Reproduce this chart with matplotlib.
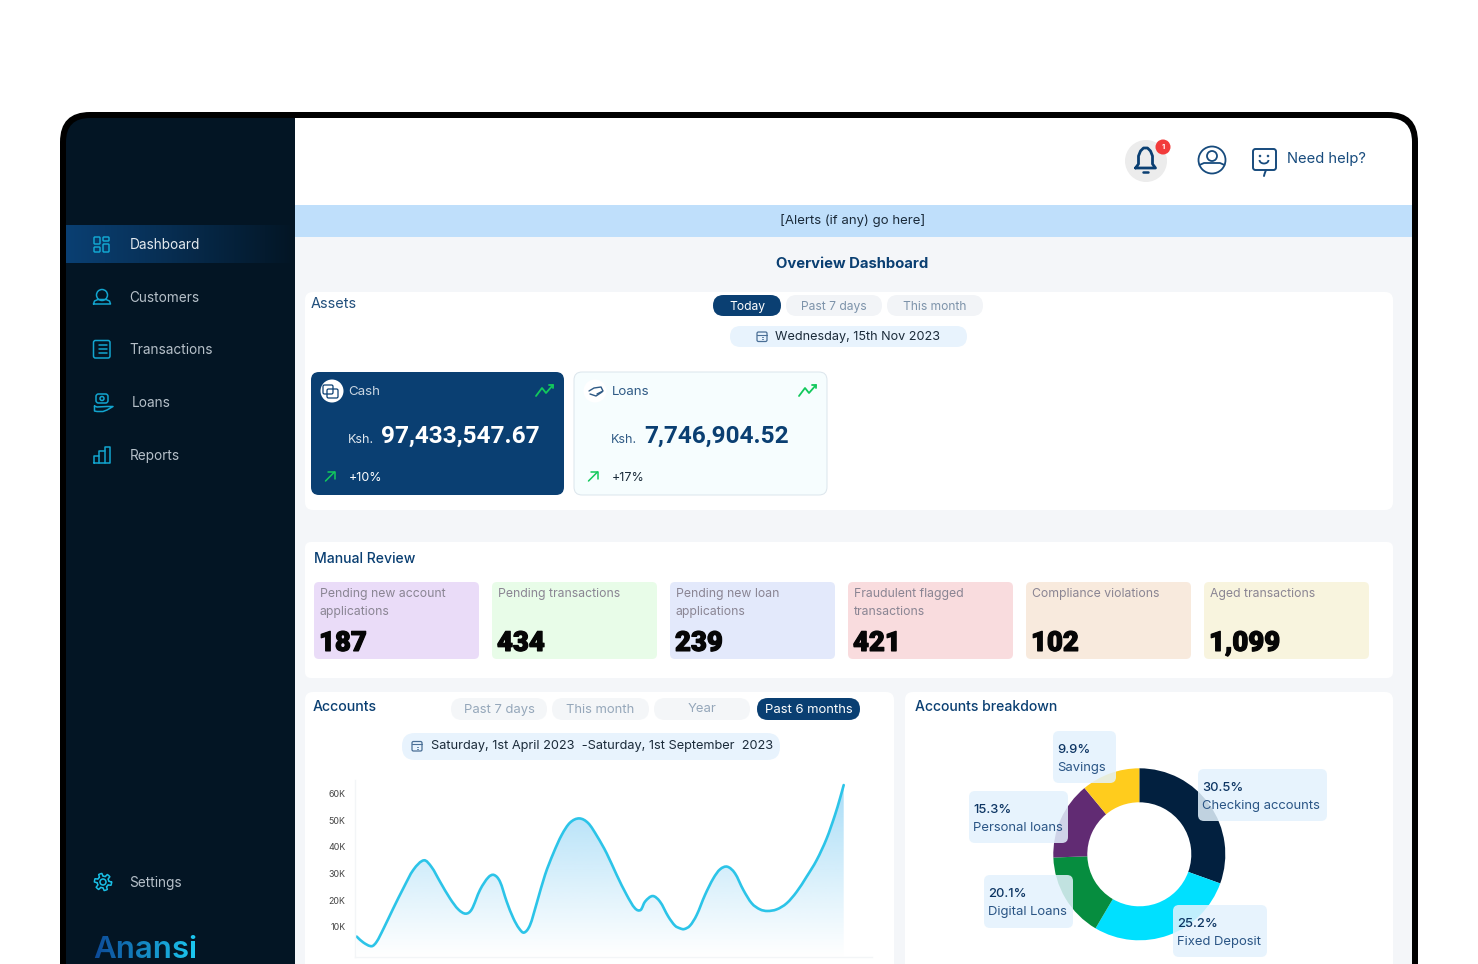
import numpy as np
import matplotlib
matplotlib.use('Agg')
import matplotlib.pyplot as plt
import matplotlib.patheffects as pe
from matplotlib.patches import FancyBboxPatch, Rectangle, Circle, Arc, PathPatch
from matplotlib.path import Path
from matplotlib.colors import to_rgb

plt.rcParams['font.family'] = ['Inter', 'DejaVu Sans']

# sidebar
menu_items = ['Dashboard', 'Customers', 'Transactions', 'Loans', 'Reports']
# assets
asset_names = ['Cash', 'Loans']
asset_values = ['97,433,547.67', '7,746,904.52']
asset_changes = ['+10%', '+17%']
# manual review
review_labels = ['Pending new account\napplications', 'Pending transactions',
                 'Pending new loan\napplications', 'Fraudulent flagged\ntransactions',
                 'Compliance violations', 'Aged transactions']
review_counts = ['187', '434', '239', '421', '102', '1,099']
review_colors = ['#eadcf8', '#e8fce8', '#e3e9fb', '#f9dcde', '#f8eadd', '#f8f4de']
# accounts line (position along the axis, value in thousands)
account_x = [1.7, 8.3, 16.7, 21.7, 28.3, 38.3, 48.3, 58.3, 69, 76.7, 85, 95, 103.3, 110.7,
             116.7, 125, 133.3, 139, 145, 151.7, 158.3, 164, 169, 175, 181.7, 190, 198.3,
             206.7, 215, 224.3, 233.3, 242.3, 251.7, 261.7, 271.7, 280, 285.7, 290, 297.7,
             305, 313.3, 320, 325, 329, 335, 341.7, 350, 358.3, 365, 372.3, 380, 388.3,
             396.7, 405, 412.3, 421.7, 431.7, 441.7, 451.7, 461.7, 471.7, 480, 485, 488.7]
account_k = [6.3, 4.1, 2.7, 4.4, 9.1, 16.9, 24.4, 31.3, 34.9, 32.3, 26.9, 20.6, 16.5, 14.9,
             16.5, 23.8, 28.5, 29.4, 26.9, 19.4, 13.2, 9.4, 7.8, 10.6, 18.8, 29.4, 37.5,
             44.4, 49.0, 50.6, 48.8, 43.8, 37.5, 29.4, 21.9, 16.9, 16.3, 19.4, 21.5, 19.4,
             13.8, 10.4, 9.4, 9.1, 10.4, 14.4, 21.9, 28.1, 31.5, 32.5, 30.0, 23.8, 18.8,
             16.5, 15.9, 16.5, 18.8, 23.1, 28.8, 35.0, 43.1, 51.9, 58.1, 63.1]
account_ticks = [10, 20, 30, 40, 50, 60]
account_tick_labels = ['10K', '20K', '30K', '40K', '50K', '60K']
# breakdown donut: drawn shares, printed labels kept as shown
slice_shares = [30.5, 28.0, 15.9, 14.6, 11.0]
slice_colors = ['#02203f', '#00e0ff', '#068d3f', '#612b73', '#ffcc1d']
slice_percents = ['30.5%', '25.2%', '20.1%', '15.3%', '9.9%']
slice_names = ['Checking accounts', 'Fixed Deposit', 'Digital Loans', 'Personal loans', 'Savings']

NAVY = '#0a3f72'
DARK = '#031524'
ICON = '#12a5cf'
INK = '#174b7d'
W, H = 1478, 964

fig = plt.figure(figsize=(W / 100, H / 100), dpi=100, facecolor='white')
ax = fig.add_axes([0, 0, 1, 1])
ax.set_xlim(0, W)
ax.set_ylim(H, 0)
ax.axis('off')


def box(x0, y0, x1, y1, color, r=8, edge='none', lw=0, z=2, alpha=None, clip=None):
    p = FancyBboxPatch((x0, y0), x1 - x0, y1 - y0, boxstyle=f'round,pad=0,rounding_size={r}',
                       fc=color, ec=edge, lw=lw, zorder=z, alpha=alpha)
    ax.add_patch(p)
    if clip is not None:
        p.set_clip_path(clip)
    return p


def label(x, y, s, size=9.5, color='#222222', weight='normal', ha='left', z=6, family=None):
    t = ax.text(x, y + 1.4, s, fontsize=size, color=color, fontweight=weight, ha=ha, va='center', zorder=z)
    if family:
        t.set_fontfamily(family)
    return t


def stroke(xs, ys, color=ICON, lw=1.1, z=6):
    ax.plot(xs, ys, color=color, lw=lw, zorder=z, solid_capstyle='round', solid_joinstyle='round')


def ring(x, y, r, color=ICON, lw=1.1, z=6, fill='none'):
    ax.add_patch(Circle((x, y), r, fc=fill, ec=color, lw=lw, zorder=z))


def outline(x0, y0, x1, y1, color=ICON, r=1.5, lw=1.1, z=6):
    box(x0, y0, x1, y1, 'none', r=r, edge=color, lw=lw, z=z)


def calendar(x, y):
    outline(x - 5, y - 4.5, x + 5, y + 5, color='#4a6f96', r=1.5, lw=0.9)
    stroke([x - 5, x + 5], [y - 1.8, y - 1.8], color='#4a6f96', lw=0.8)
    for dx in (-2.5, 0, 2.5):
        for dy in (0.6, 2.8):
            stroke([x + dx, x + dx + 0.8], [y + dy, y + dy], color='#4a6f96', lw=0.7)


def trend(x, y):
    stroke([x, x + 6, x + 10, x + 17], [y + 11, y + 3, y + 8, y], color='#12c95c', lw=1.3)
    stroke([x + 13, x + 17, x + 17], [y, y, y + 3], color='#12c95c', lw=1.3)


def arrow_up(x, y):
    stroke([x, x + 9], [y + 9, y], color='#12c95c', lw=1.1)
    stroke([x + 2, x + 9, x + 9], [y, y, y + 7], color='#12c95c', lw=1.1)


def spline_path(xs, ys):
    # bezier path through the read points, the reference line is a drawn spline
    verts = [(xs[0], ys[0])]
    codes = [Path.MOVETO]
    n = len(xs)
    for i in range(n - 1):
        a, b = max(i - 1, 0), min(i + 2, n - 1)
        h = xs[i + 1] - xs[i]
        m0 = (ys[i + 1] - ys[a]) / (xs[i + 1] - xs[a])
        m1 = (ys[b] - ys[i]) / (xs[b] - xs[i])
        verts += [(xs[i] + h / 3, ys[i] + m0 * h / 3),
                  (xs[i + 1] - h / 3, ys[i + 1] - m1 * h / 3),
                  (xs[i + 1], ys[i + 1])]
        codes += [Path.CURVE4] * 3
    return verts, codes


# device frame and the areas cut to its inner corners
box(60, 112, 1418, 1040, '#000000', r=30, z=1)
inner = box(66, 118, 1412, 1040, DARK, r=24, z=1.5)
main_clip = inner
for x0, y0, x1, y1, c in [(295, 118, 1412, 205, 'white'),
                          (295, 205, 1412, 237, '#bfdffb'),
                          (295, 237, 1412, 1040, '#f4f6f9')]:
    ax.add_patch(Rectangle((x0, y0), x1 - x0, y1 - y0, fc=c, lw=0, zorder=1.6, clip_path=main_clip))

# sidebar
glow = np.zeros((1, 256, 3))
for i, (a, b) in enumerate(zip(to_rgb(NAVY), to_rgb(DARK))):
    glow[0, :, i] = a + (b - a) * np.linspace(0, 1, 256) ** 1.1
ax.imshow(glow, extent=(66, 295, 263, 225), aspect='auto', zorder=1.7)
ax.set_xlim(0, W)
ax.set_ylim(H, 0)

menu_y = [244, 297, 349, 402, 455]
for i, (name, y) in enumerate(zip(menu_items, menu_y)):
    label(132 if name == 'Loans' else 129.5, y, name, size=9.8,
          color='#e4eaef' if i == 0 else '#b6c0c9')
for x0, y0, x1, y1 in [(94, 237, 100, 244), (103, 237, 109, 241), (94, 247, 100, 252), (103, 244, 109, 252)]:
    outline(x0, y0, x1, y1, r=1)
ring(102, 295, 5.5)
stroke([93.5, 94.5, 98, 106, 109.5, 110.5, 93.5], [304, 301, 299.5, 299.5, 301, 304, 304])
outline(93.5, 340.5, 110, 358, r=2)
for y in (345, 349, 353):
    stroke([96.5, 97], [y, y])
    stroke([99, 107], [y, y])
outline(96, 394, 108, 403, r=2.5)
ring(102, 398.5, 2)
stroke([94.5, 94.5, 97, 103, 107, 113, 107, 97, 94.5], [406, 411, 411.5, 411.5, 410, 406.5, 406.5, 407, 406])
stroke([93.5, 93.5, 99, 99, 105, 105, 110, 110, 93.5], [463, 456, 456, 450.5, 450.5, 446.5, 446.5, 463, 463])
stroke([99, 99], [456, 463])
stroke([105, 105], [450.5, 463])
gear_a = np.linspace(0, 2 * np.pi, 49)
gear_r = 7.2 + 1.4 * np.sign(np.sin(6 * gear_a + 0.5))
stroke(103 + gear_r * np.cos(gear_a), 882 + gear_r * np.sin(gear_a), color='#19bfe6', lw=1.1)
ring(103, 882, 3, color='#19bfe6')
label(129.5, 882, 'Settings', size=9.8, color='#b6c0c9')


def logo_fade(img, dpi):
    # left to right blue fade over the drawn letters
    out = img.copy()
    t = np.linspace(0, 1, img.shape[1])
    for i, (a, b) in enumerate(zip(to_rgb('#0d4a98'), to_rgb('#1cc8f0'))):
        out[:, :, i] = a + (b - a) * t
    return out, 0, 0


logo = label(93.5, 949, 'Anansi', size=22.5, color='#1580c0', weight='semibold')
logo.set_agg_filter(logo_fade)

# top bar
ax.add_patch(Circle((1146, 161), 21, fc='#ececec', lw=0, zorder=3))
bx = np.array([-10, -7, -7, -5, -2, 2, 5, 7, 7, 10, -10])
by = np.array([8, 4, -4, -9, -12, -12, -9, -4, 4, 8, 8])
stroke(1145.5 + bx, 160 + by, color=NAVY, lw=2)
stroke([1143, 1148], [172, 172], color=NAVY, lw=1.8)
ax.add_patch(Circle((1163, 147), 7.5, fc='#f23b3b', lw=0, zorder=5))
label(1163, 146, '1', size=5.5, color='white', weight='bold', ha='center')
ring(1212, 160, 13.5, color=INK, lw=1.3)
ring(1212, 156, 5, color=INK, lw=1.3)
stroke([1199.5, 1204, 1220, 1224.5], [165, 163, 163, 165], color=INK, lw=1.3)
outline(1253, 149, 1276, 170, color=INK, r=2.5, lw=1.4)
stroke([1266, 1264.5, 1264], [170, 174, 176], color=INK, lw=1.4)
ring(1260, 156, 0.5, color=INK)
ring(1268, 156, 0.5, color=INK)
ax.add_patch(Arc((1264, 160), 9, 7, theta1=0, theta2=180, ec=INK, lw=1.3, zorder=6))
label(1287, 158, 'Need help?', size=10.6, color=INK)

label(853, 219.5, '[Alerts (if any) go here]', size=9.5, color='#1b2b3a', ha='center')
label(852, 263, 'Overview Dashboard', size=10.7, color=NAVY, weight='bold', ha='center')

# panels
box(305, 292, 1393, 510, 'white', r=8)
box(305, 542, 1393, 678, 'white', r=6)
box(305, 692, 894, 1040, 'white', r=8)
box(905, 692, 1393, 1040, 'white', r=8)

# assets panel
label(311, 303, 'Assets', size=10.4, color='#214f7c')
for x0, x1, s, on in [(713, 781, 'Today', True), (786, 882, 'Past 7 days', False), (887, 983, 'This month', False)]:
    box(x0, 295, x1, 316, NAVY if on else '#f2f4f7', r=10.5, z=3)
    label((x0 + x1) / 2, 306, s, size=8.7, color='white' if on else '#7d93aa', ha='center')
box(730, 326, 967, 347, '#e8f3fd', r=10.5, z=3)
calendar(762, 336.5)
label(775, 336, 'Wednesday, 15th Nov 2023', size=9.1, color='#1b2b3a')

card_x = [311, 574]
for i, x in enumerate(card_x):
    cash = i == 0
    if cash:
        box(x, 372, x + 253, 495, NAVY, r=8, z=3)
    else:
        box(x, 372, x + 253, 495, '#f6fdfe', r=8, edge='#dbe5ec', lw=0.7, z=3)
    ax.add_patch(Circle((x + 21, 391), 11.5, fc='white', lw=0, zorder=4))
    label(x + 37.5, 391, asset_names[i], size=9.6, color='#c9d6e2' if cash else '#2f5a85')
    label(x + 37, 438.5, 'Ksh.', size=9, color='#dfe7ee' if cash else '#2f5a85')
    label(x + 70, 434.5, asset_values[i], size=17.6, color='white' if cash else NAVY, weight='semibold',
          family=['Roboto', 'DejaVu Sans'])
    label(x + 37.5, 476.5, asset_changes[i], size=9, color='white' if cash else '#1b2b3a')
    trend(x + 225, 385)
    arrow_up(x + 14.5, 472)
outline(323, 385, 333, 394, color=NAVY, r=1.5, lw=0.9)
outline(327, 389, 338, 398, color=NAVY, r=1.5, lw=0.9)
stroke([589, 594, 601, 603, 597], [391, 388, 387, 391, 394], color='#2f5a85', lw=1)
stroke([590, 596, 602], [394, 396, 392], color='#2f5a85', lw=1)

# manual review panel
label(314, 558, 'Manual Review', size=10.1, color=NAVY, weight='medium')
review_x = [314, 492, 670, 848, 1026, 1204]
for x, s, n, c in zip(review_x, review_labels, review_counts, review_colors):
    box(x, 582, x + 165, 659, c, r=5, z=3)
    for k, part in enumerate(s.split('\n')):
        label(x + 6, 592.5 + 18 * k, part, size=8.8, color='#8a8593')
    num = label(x + 5, 642, n, size=19.8, color='#060606', weight='black', family=['Roboto', 'DejaVu Sans'])
    num.set_path_effects([pe.withStroke(linewidth=0.9, foreground='#060606')])

# accounts panel
label(313, 706, 'Accounts', size=10.2, color=NAVY, weight='medium')
for x0, x1, s, on in [(451, 547, 'Past 7 days', False), (552, 649, 'This month', False),
                      (654, 750, 'Year', False), (757, 860, 'Past 6 months', True)]:
    box(x0, 698, x1, 720, NAVY if on else '#f4f6f8', r=11, z=3)
    label((x0 + x1) / 2, 709 if s != 'Year' else 708, s, size=9.4, color='white' if on else '#95a7ba', ha='center')
box(402, 733, 780, 760, '#e8f3fd', r=13, z=3)
calendar(417, 746)
label(431, 745, 'Saturday, 1st April 2023  -Saturday, 1st September  2023', size=9.2, color='#1b2b3a')

# breakdown panel
label(915, 706, 'Accounts breakdown', size=10.1, color=NAVY, weight='medium')

# line chart
lx0, lx1, ly0, ly1 = 355, 872, 780, 957
chart = fig.add_axes([lx0 / W, 1 - ly1 / H, (lx1 - lx0) / W, (ly1 - ly0) / H], zorder=5)
chart.patch.set_alpha(0)
xs = np.array(account_x)
ys = np.array(account_k)
grad = np.zeros((256, 1, 4))
grad[:, :, :3] = to_rgb('#a6dcf7')
grad[:, 0, 3] = np.linspace(1, 0, 256) ** 1.05
top = 65
bottom = -1.35
im = chart.imshow(grad, extent=(xs[0], xs[-1], bottom, top), aspect='auto', zorder=1)
verts, codes = spline_path(xs, ys)
shape = PathPatch(Path(verts + [(xs[-1], bottom), (xs[0], bottom), verts[0]],
                       codes + [Path.LINETO, Path.LINETO, Path.CLOSEPOLY]),
                  transform=chart.transData, fc='none', lw=0)
chart.add_patch(shape)
im.set_clip_path(shape)
chart.add_patch(PathPatch(Path(verts, codes), fc='none', ec='#2cc4e8', lw=1.9, zorder=2,
                          capstyle='round', joinstyle='round'))
chart.set_xlim(0, lx1 - lx0)
chart.set_ylim(bottom, top)
chart.set_xticks([])
chart.set_yticks(account_ticks)
chart.set_yticklabels(account_tick_labels, fontsize=6.4, color='#444444')
chart.tick_params(axis='y', length=0, pad=7)
for side in ('top', 'right'):
    chart.spines[side].set_visible(False)
for side in ('left', 'bottom'):
    chart.spines[side].set_color('#f3f5f7')
    chart.spines[side].set_linewidth(1)

# donut, centred on (1139, 854) with an 86 px outer radius
r_px = 86
cx, cy = 1139.3, 854.3
donut = fig.add_axes([(cx - r_px) / W, 1 - (cy + r_px) / H, 2 * r_px / W, 2 * r_px / H], zorder=6)
donut.pie(slice_shares, colors=slice_colors, startangle=90, counterclock=False, radius=1,
          wedgeprops={'width': 34 / 86, 'linewidth': 0})
donut.set_xlim(-1, 1)
donut.set_ylim(-1, 1)
donut.set_aspect('equal')

# overlay axes so the label boxes sit on top of the donut
over = fig.add_axes([0, 0, 1, 1], zorder=7)
over.set_xlim(0, W)
over.set_ylim(H, 0)
over.axis('off')
over.patch.set_alpha(0)
tag_boxes = [(1198, 769, 1327, 821), (1173, 905, 1267, 957), (984, 875, 1073, 928),
             (969, 791, 1068, 843), (1053, 731, 1116, 783)]
for (x0, y0, x1, y1), pct, name in zip(tag_boxes, slice_percents, slice_names):
    over.add_patch(FancyBboxPatch((x0, y0), x1 - x0, y1 - y0, boxstyle='round,pad=0,rounding_size=6',
                                  fc='#e3f2fd', alpha=0.85, lw=0))
    over.text(x0 + 4, y0 + 19, pct, fontsize=9.3, color='#0d3563', fontweight='medium', va='center')
    over.text(x0 + 4, y0 + 37, name, fontsize=9.4, color='#2a5585', va='center')

fig.savefig('out.png', dpi=100)
plt.close(fig)
